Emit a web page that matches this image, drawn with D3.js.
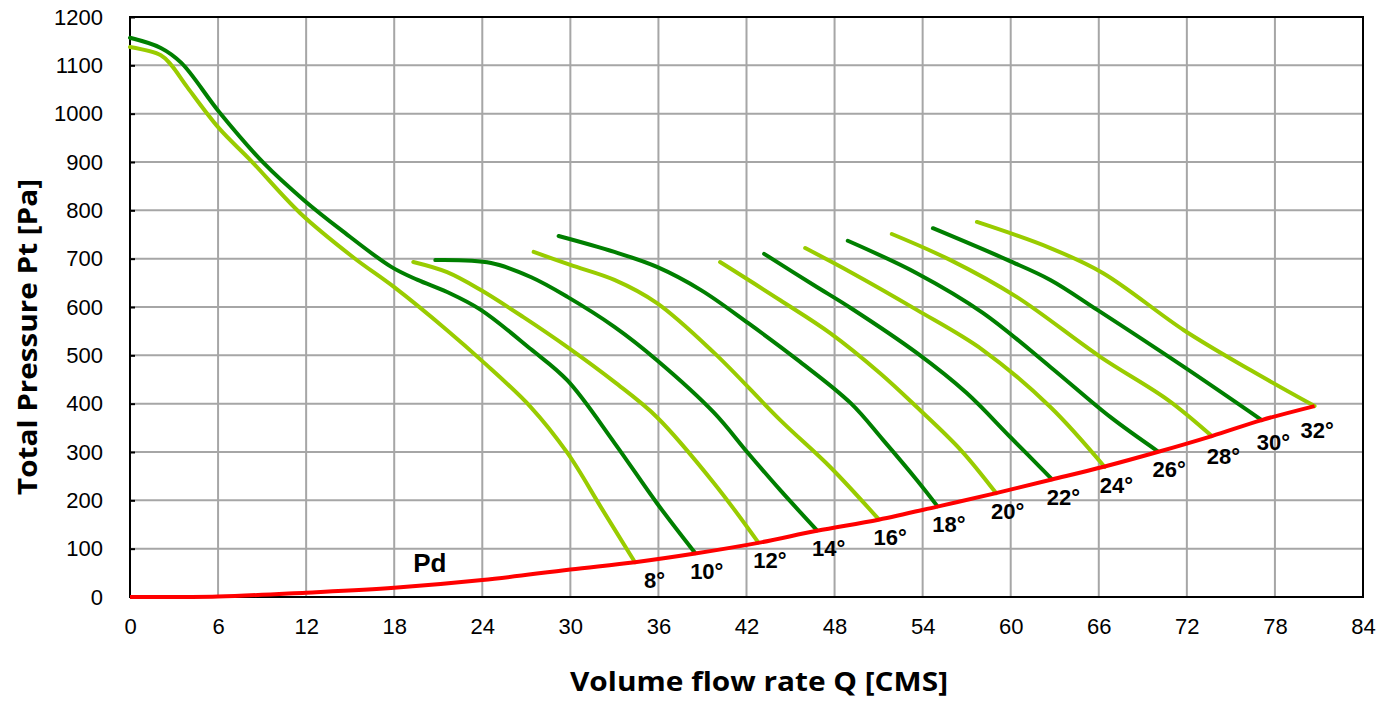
<!DOCTYPE html>
<html>
<head>
<meta charset="utf-8">
<script src="https://cdn.jsdelivr.net/npm/d3@7"></script>
<style>
  html, body { margin: 0; padding: 0; background: #fff; }
  svg { display: block; }
</style>
</head>
<body>
<div id="chart"></div>
<script>
// Fan curves: Q [CMS] and Pt [Pa] per blade angle
var angles = [8, 10, 12, 14, 16, 18, 20, 22, 24, 26, 28, 30, 32];

var q8  = [0, 2.1, 2.8, 3.9, 6.06, 8.2, 11.6, 15.2, 18.0, 21.6, 24.0, 27.3, 29.8, 32.1, 34.4];
var p8  = [1138, 1121, 1101, 1055, 970, 904, 794, 703, 641, 552, 488, 393, 298, 185, 72];
var q10 = [0, 2.1, 3.5, 6.06, 9.1, 11.85, 14.4, 17.8, 19.6, 21.6, 23.9, 27.3, 29.8, 33.0, 35.9, 38.5];
var p10 = [1157, 1136, 1105, 1004, 898, 821, 759, 683, 656, 631, 594, 513, 448, 319, 194, 91];
var q12 = [19.3, 21.6, 23.9, 26.8, 29.8, 33.0, 35.9, 39.8, 42.8];
var p12 = [693, 672, 635, 579, 517, 445, 372, 235, 113];
var q14 = [20.8, 24.6, 27.3, 29.8, 33.0, 35.9, 39.8, 42.1, 44.3, 46.8];
var p14 = [697, 691, 662, 621, 559, 490, 381, 298, 221, 138];
var q16 = [27.5, 30.0, 33.0, 35.9, 39.8, 44.3, 47.7, 51.0];
var p16 = [714, 687, 656, 608, 505, 366, 269, 161];
var q18 = [29.2, 33.0, 35.9, 38.9, 42.1, 45.5, 49.1, 51.3, 53.6, 55.0];
var p18 = [747, 714, 683, 635, 567, 490, 401, 325, 242, 188];
var q20 = [40.2, 44.3, 47.7, 51.1, 53.6, 56.6, 59.0];
var p20 = [693, 614, 546, 463, 393, 304, 215];
var q22 = [43.2, 46.6, 49.1, 53.6, 57.0, 60.0, 62.8];
var p22 = [710, 645, 598, 505, 422, 330, 244];
var q24 = [46.0, 49.1, 53.6, 58.1, 62.7, 66.4];
var p24 = [722, 672, 594, 511, 393, 269];
var q26 = [48.9, 53.6, 58.1, 62.7, 66.8, 70.0];
var p26 = [737, 670, 588, 476, 372, 302];
var q28 = [51.9, 55.9, 60.4, 66.1, 70.7, 73.7];
var p28 = [751, 697, 621, 497, 408, 333];
var q30 = [54.7, 59.8, 62.7, 65.9, 71.8, 77.1];
var p30 = [763, 697, 656, 594, 476, 366];
var q32 = [57.7, 62.7, 66.3, 71.8, 76.3, 80.7];
var p32 = [776, 722, 670, 552, 470, 395];

// dynamic pressure Pd
var qPd = [0, 6, 12, 18, 24, 30, 34.4, 38.5, 42.8, 46.8, 51, 55, 59, 62.8, 66.4, 70, 73.7, 77.1, 80.7];
var pPd = [0, 1, 9, 19, 35, 57, 72, 90, 112, 137, 160, 187, 215, 243, 270, 300, 333, 366, 395];

var xTicks = [0, 6, 12, 18, 24, 30, 36, 42, 48, 54, 60, 66, 72, 78, 84];
var yTicks = [0, 100, 200, 300, 400, 500, 600, 700, 800, 900, 1000, 1100, 1200];

var qs = [q8, q10, q12, q14, q16, q18, q20, q22, q24, q26, q28, q30, q32];
var ps = [p8, p10, p12, p14, p16, p18, p20, p22, p24, p26, p28, p30, p32];

var darkGreen = '#007F00';
var lightGreen = '#99CC00';

var width = 1389, height = 701;
var margin = { left: 130, right: 26, top: 17, bottom: 104 };
var pw = width - margin.left - margin.right;
var ph = height - margin.top - margin.bottom;

var svg = d3.select('#chart').append('svg')
    .attr('width', width)
    .attr('height', height);

var x = d3.scaleLinear().domain([0, 84]).range([0, pw]);
var y = d3.scaleLinear().domain([0, 1200]).range([ph, 0]);

var g = svg.append('g')
    .attr('transform', 'translate(' + margin.left + ',' + margin.top + ')');

// grid
g.append('g')
    .selectAll('line')
    .data(xTicks)
    .enter().append('line')
    .attr('x1', function(d) { return x(d); })
    .attr('x2', function(d) { return x(d); })
    .attr('y1', 0).attr('y2', ph)
    .attr('stroke', '#A6A6A6').attr('stroke-width', 2);

g.append('g')
    .selectAll('line')
    .data(yTicks)
    .enter().append('line')
    .attr('y1', function(d) { return y(d); })
    .attr('y2', function(d) { return y(d); })
    .attr('x1', 0).attr('x2', pw)
    .attr('stroke', '#A6A6A6').attr('stroke-width', 2);

// axes (labels only, ticks pointing inward)
var xAxis = g.append('g')
    .attr('transform', 'translate(0,' + ph + ')')
    .call(d3.axisBottom(x).tickValues(xTicks).tickFormat(d3.format('d')).tickSize(0).tickPadding(21));
var yAxis = g.append('g')
    .call(d3.axisLeft(y).tickValues(yTicks).tickFormat(d3.format('d')).tickSize(-5).tickPadding(27));

[xAxis, yAxis].forEach(function(a) {
    a.select('.domain').remove();
    a.selectAll('line').attr('stroke', '#000').attr('stroke-width', 2);
    a.selectAll('text')
        .attr('font-family', '"Liberation Sans", Arial, sans-serif')
        .attr('font-size', '22px')
        .attr('fill', '#000');
});

// plot border
g.append('rect')
    .attr('x', 0).attr('y', 0)
    .attr('width', pw).attr('height', ph)
    .attr('fill', 'none')
    .attr('stroke', '#000').attr('stroke-width', 2);

var line = d3.line()
    .x(function(d) { return x(d[0]); })
    .y(function(d) { return y(d[1]); })
    .curve(d3.curveCatmullRom.alpha(0.5));

angles.forEach(function(a, i) {
    g.append('path')
        .datum(d3.zip(qs[i], ps[i]))
        .attr('d', line)
        .attr('fill', 'none')
        .attr('stroke', i % 2 === 0 ? lightGreen : darkGreen)
        .attr('stroke-width', 4)
        .attr('stroke-linecap', 'round');
});

// Pd on top of the fan curves
g.append('path')
    .datum(d3.zip(qPd, pPd))
    .attr('d', line)
    .attr('fill', 'none')
    .attr('stroke', '#FF0000')
    .attr('stroke-width', 4);

// angle labels below curve ends
var labelFont = '"Liberation Sans", Arial, sans-serif';
angles.forEach(function(a, i) {
    var qq = qs[i], pp = ps[i];
    var ex = x(qq[qq.length - 1]), ey = y(pp[pp.length - 1]);
    var dx = a === 8 ? 9 : (a === 32 ? -14 : -5);
    var dy = a >= 28 ? 26 + (a - 26) : 26;
    g.append('text')
        .attr('x', ex + dx)
        .attr('y', ey + dy)
        .attr('font-family', labelFont)
        .attr('font-size', '22px')
        .attr('font-weight', 'bold')
        .attr('fill', '#000')
        .text(a + '°');
});

g.append('text')
    .attr('x', x(19.3))
    .attr('y', y(52))
    .attr('font-family', labelFont)
    .attr('font-size', '26px')
    .attr('font-weight', 'bold')
    .attr('fill', '#000')
    .text('Pd');

// axis titles
svg.append('text')
    .attr('x', 759)
    .attr('y', 691)
    .attr('text-anchor', 'middle')
    .attr('font-family', '"Open Sans", sans-serif')
    .attr('font-weight', 'bold')
    .attr('font-size', '27px')
    .attr('textLength', 378)
    .attr('lengthAdjust', 'spacingAndGlyphs')
    .attr('fill', '#000')
    .text('Volume flow rate Q [CMS]');

svg.append('text')
    .attr('transform', 'translate(37,337) rotate(-90)')
    .attr('text-anchor', 'middle')
    .attr('font-family', '"Open Sans", sans-serif')
    .attr('font-weight', 'bold')
    .attr('font-size', '27px')
    .attr('textLength', 316)
    .attr('lengthAdjust', 'spacingAndGlyphs')
    .attr('fill', '#000')
    .text('Total Pressure Pt [Pa]');
</script>
</body>
</html>
